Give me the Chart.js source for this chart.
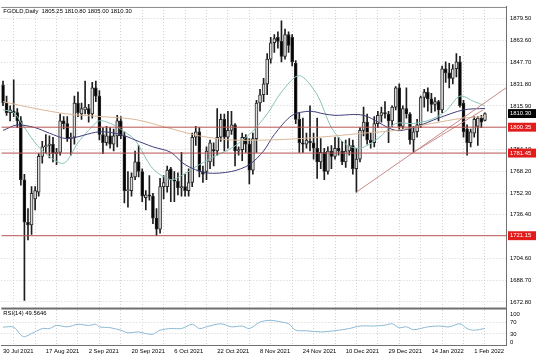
<!DOCTYPE html>
<html><head><meta charset="utf-8">
<script src="https://cdn.jsdelivr.net/npm/chart.js@4"></script>
<style>html,body{margin:0;padding:0;background:#fff;}#wrap{position:relative;width:536px;height:357px;}canvas{display:block;}</style>
</head><body><div id="wrap"><canvas id="c" width="536" height="357"></canvas></div>
<script>
// ---- data ----
const symbolTitle = 'FGOLD,Daily';
const opens  = [1831,1818,1811,1812,1811,1805,1762,1731,1729,1748,1753,1779,1786,1787,1788,1781,1782,1805,1803,1792,1793,1818,1810,1813,1814,1810,1829,1823,1795,1789,1794,1788,1794,1805,1794,1754,1754,1764,1775,1768,1749,1751,1750,1734,1726,1757,1757,1770,1762,1761,1756,1757,1754,1760,1793,1797,1768,1768,1775,1784,1783,1793,1806,1793,1798,1802,1783,1784,1793,1788,1769,1792,1818,1824,1832,1850,1862,1866,1863,1852,1868,1866,1847,1806,1789,1788,1790,1789,1785,1775,1782,1768,1783,1779,1785,1783,1775,1783,1787,1770,1777,1798,1804,1791,1789,1803,1809,1811,1810,1805,1815,1829,1801,1814,1810,1791,1797,1802,1822,1826,1821,1817,1819,1813,1843,1840,1836,1843,1848,1818,1799,1789,1796,1801,1807,1805.25];
const highs  = [1834,1823,1816,1835,1814,1808,1766,1741,1757,1757,1781,1790,1795,1794,1793,1785,1810,1808,1808,1796,1823,1826,1818,1834,1817,1833,1834,1827,1800,1801,1800,1799,1809,1808,1797,1768,1767,1783,1787,1770,1754,1765,1752,1741,1763,1765,1772,1771,1768,1767,1782,1766,1770,1796,1801,1800,1772,1786,1791,1789,1814,1810,1810,1812,1812,1803,1786,1796,1795,1792,1796,1820,1828,1836,1854,1866,1868,1870,1878,1872,1870,1868,1849,1811,1807,1796,1816,1796,1807,1792,1785,1786,1787,1793,1793,1790,1791,1792,1791,1785,1800,1815,1810,1796,1808,1812,1815,1819,1812,1816,1830,1832,1816,1829,1811,1801,1806,1823,1828,1829,1825,1822,1820,1845,1848,1847,1846,1854,1852,1820,1802,1799,1808,1808,1809,1810.8];
const lows   = [1816,1809,1805,1808,1800,1758,1674,1718,1722,1740,1750,1774,1781,1778,1775,1773,1780,1799,1790,1780,1788,1808,1806,1810,1804,1807,1819,1791,1781,1787,1785,1783,1786,1792,1745,1742,1750,1762,1764,1746,1740,1747,1730,1721.2,1723,1748,1753,1746,1746,1751,1750,1750,1750,1757,1787,1764,1760,1762,1770,1772,1780,1790,1783,1785,1795,1772,1780,1776,1782,1759,1766,1782,1812,1819,1824,1847,1855,1858,1848,1850,1855,1845,1803,1782,1782,1785,1783,1777,1763,1770,1762,1766,1770,1777,1780,1773,1771,1780,1766,1753,1775,1794,1788,1785,1786,1800,1804,1807,1789,1801,1813,1798,1799,1807,1788,1782,1793,1800,1815,1812,1811,1812,1805,1811,1833,1829,1832,1837,1815,1793,1780,1786,1793,1787,1800,1805];
const closes = [1818,1811,1813,1811,1805,1762,1731,1729,1752,1754,1779,1786,1787,1788,1781,1782,1805,1803,1792,1793,1818,1811,1814,1815,1810,1829,1823,1795,1789,1794,1788,1794,1805,1794,1754,1754,1764,1775,1768,1750,1751,1750,1734,1726,1757,1760,1769,1762,1761,1756,1757,1754,1760,1793,1797,1768,1766,1783,1789,1783,1793,1806,1793,1798,1802,1783,1784,1793,1788,1769,1792,1818,1824,1832,1850,1862,1865,1863,1852,1868,1860,1848,1806,1789,1788,1791,1789,1785,1775,1782,1768,1783,1779,1785,1783,1775,1783,1787,1770,1777,1798,1804,1791,1789,1803,1809,1811,1810,1805,1815,1829,1801,1814,1810,1791,1797,1802,1822,1826,1821,1817,1819,1813,1843,1840,1836,1843,1848,1816,1797,1789,1797,1806,1807,1804,1810.3];

// moving averages (bar index, value)
const maFastIdx = [0,3,5,9,12,17,21,24,27,31,34,37,42,47,50,55,60,64,69,74,78,83,88,92,96,100,105,110,115,120,124,128,132,135];
const maFastVal = [1813,1811,1804,1789,1781,1774,1789,1798,1805,1802,1797,1791,1770,1762,1765,1773,1780,1785,1795,1810,1826,1838,1824,1800,1788,1785,1792,1803,1803,1806,1812,1823,1819,1816];
const maMidIdx = [0,4,9,13,18,27,33,37,42,47,51,57,64,69,73,76,81,86,90,93,101,110,116,122,129,135];
const maMidVal = [1798,1802,1800,1796,1792,1797,1795,1791,1786,1782,1773,1767,1768,1773,1783,1795,1809,1812,1810,1809,1809,1798,1801,1807,1813,1814];
const maSlowIdx = [0,9,18,28,37,46,55,64,74,83,93,101,110,120,129,135];
const maSlowVal = [1819,1814,1810,1808,1806,1800,1794,1791,1791,1792,1794,1796,1798,1803,1807,1808];

// horizontal levels and trend lines
const levels = [1800.35, 1781.45, 1721.15];
const trendFrom = [[99, 1753], [115, 1782]];
const trendTo   = [[140.9, 1829], [134.5, 1813]];

// RSI(14)
const rsiIdx = [0,3,5,6,8,11,13,15,18,21,24,26,27,30,33,35,38,40,42,44,47,50,53,55,57,61,64,67,69,72,75,78,80,82,85,89,92,94,97,100,104,107,109,111,113,115,119,122,125,128,130,132,135];
const rsiVal = [54,54,26,20,31,49,49,60,55,64,60,64,55,52,43,34,37,31,29,43,49,49,64,49,55,66,55,58,49,72,78,72,66,43,41,37,40,43,49,58,58,61,66,52,55,45,55,58,55,66,49,43,49.5646];
const rsiLevels = [70, 30];
const rsiTicks = [100, 70, 30, 0];

// axis tick labels
const priceTicks = [1879.50,1863.60,1847.70,1831.80,1815.90,1784.10,1768.20,1752.30,1736.40,1704.60,1688.70,1672.80];
const xLabels = ['30 Jul 2021','17 Aug 2021','2 Sep 2021','20 Sep 2021','6 Oct 2021','22 Oct 2021','8 Nov 2021','24 Nov 2021','10 Dec 2021','29 Dec 2021','14 Jan 2022','1 Feb 2022'];

// ---- view ----
const X_MIN = -0.47, X_MAX = 140.9;
const Y_MIN = 1668.0, Y_MAX = 1888.1;
const R_MIN = -9.4, R_MAX = 120;
const FAMILY = "'Liberation Sans Narrow', 'Liberation Sans', Arial, sans-serif";
const FS = 5.9;
const font = {family: FAMILY, size: FS, lineHeight: 1};
const GRID = '#d2d2d2';
const n = closes.length;
const lastPrice = closes[n - 1];

const idx = closes.map((_, i) => i);
const pts = (xs, ys) => xs.map((x, k) => ({x, y: ys[k]}));
const markerColor = v => v === lastPrice ? '#000000' : (levels.includes(v) ? '#e21b1b' : null);

const datasets = [];
// candle wicks
datasets.push({type:'bar', order:4, yAxisID:'y', data: idx.map(i => ({x:i, y:[lows[i], highs[i]]})),
  backgroundColor:'#1e1e1e', barThickness:1, grouped:false, borderWidth:0});
// candle bodies
datasets.push({type:'bar', order:3, yAxisID:'y', data: idx.map(i => ({x:i, y:[opens[i], closes[i]]})),
  backgroundColor: idx.map(i => closes[i] >= opens[i] ? '#dcdcdc' : '#000000'),
  borderColor: '#2a2a2a', borderWidth:1, borderSkipped:false, barThickness:3, grouped:false, minBarLength:1});
// MAs
datasets.push({type:'line', order:2, yAxisID:'y', data: pts(maSlowIdx, maSlowVal), borderColor:'#dbb797', borderWidth:1, pointRadius:0, tension:0.3});
datasets.push({type:'line', order:2, yAxisID:'y', data: pts(maMidIdx, maMidVal), borderColor:'#3f3f7c', borderWidth:1, pointRadius:0, tension:0.3});
datasets.push({type:'line', order:2, yAxisID:'y', data: pts(maFastIdx, maFastVal), borderColor:'#88c2b8', borderWidth:1, pointRadius:0, tension:0.3});
// levels
levels.forEach(v => datasets.push({type:'line', order:1, yAxisID:'y', data:[{x:X_MIN, y:v},{x:X_MAX, y:v}], borderColor:'#b85252', borderWidth:1, pointRadius:0}));
// trend lines
trendFrom.forEach((f, k) => datasets.push({type:'line', order:1, yAxisID:'y', data:[{x:f[0], y:f[1]},{x:trendTo[k][0], y:trendTo[k][1]}], borderColor:'#c98a8a', borderWidth:1, pointRadius:0}));
// RSI
datasets.push({type:'line', order:0, yAxisID:'yr', data: pts(rsiIdx, rsiVal), borderColor:'#8bb9d6', borderWidth:1, pointRadius:0, tension:0.3});

const decor = {
  id: 'decor',
  afterDraw(chart) {
    const {ctx, chartArea: a, scales} = chart;
    const yr = scales.yr;
    ctx.save();
    ctx.fillStyle = '#8a8a8a';
    ctx.fillRect(a.left, a.top, a.right - a.left, 1);
    ctx.fillStyle = '#6e6e6e';
    ctx.fillRect(a.left, yr.top - 1, a.right - a.left, 2);
    ctx.font = FS + 'px ' + FAMILY;
    ctx.fillStyle = '#000';
    ctx.textBaseline = 'top';
    ctx.fillText(symbolTitle + '  ' + [opens[n-1], highs[n-1], lows[n-1], closes[n-1]].map(v => v.toFixed(2)).join(' '), a.left + 2, a.top + 1.5);
    ctx.fillText('RSI(14) ' + rsiVal[rsiVal.length - 1].toFixed(4), a.left + 2, yr.top + 2);
    ctx.restore();
  }
};

new Chart(document.getElementById('c'), {
  type: 'bar',
  data: { datasets },
  options: {
    responsive: false, animation: false, devicePixelRatio: 1,
    layout: { padding: { top: 2, left: 0, right: 0, bottom: 0 } },
    plugins: { legend: {display:false}, tooltip: {enabled:false}, title: {display:false} },
    scales: {
      x: {
        type: 'linear', min: X_MIN, max: X_MAX, offset: false,
        afterBuildTicks: s => { const t = []; for (let k = 0; k <= X_MAX; k += 6) t.push({value:k}); s.ticks = t; },
        afterFit: s => { s.height = 12; },
        ticks: { autoSkip:false, maxRotation:0, align:'start', font, color:'#000', padding:3,
          callback: v => (v % 12 === 0 && xLabels[v / 12]) ? xLabels[v / 12] : '' },
        grid: { color:GRID, drawTicks:false, lineWidth:1 },
        border: { display:true, color:'#707070', width:1, dash:[1,2] }
      },
      y: {
        position:'right', stack:'p', stackWeight:306, min:Y_MIN, max:Y_MAX,
        afterBuildTicks: s => { s.ticks = priceTicks.concat([lastPrice], levels).map(v => ({value:v})); },
        afterFit: s => { s.width = 30; },
        ticks: { autoSkip:false, font, padding:4,
          color: c => markerColor(c.tick.value) ? '#ffffff' : '#000000',
          showLabelBackdrop: true,
          backdropColor: c => markerColor(c.tick.value) || 'rgba(0,0,0,0)',
          backdropPadding: {top:1.5, bottom:1.5, left:2, right:5},
          callback: v => Number(v).toFixed(2) },
        grid: { color: c => (c.tick && markerColor(c.tick.value)) ? 'rgba(0,0,0,0)' : GRID, drawTicks:false },
        border: { display:true, color:'#707070', width:1, dash:[1,2] }
      },
      yr: {
        position:'right', stack:'p', stackWeight:37, min:R_MIN, max:R_MAX,
        afterBuildTicks: s => { s.ticks = rsiTicks.map(v => ({value:v})); },
        afterFit: s => { s.width = 30; },
        ticks: { autoSkip:false, font, padding:4, color:'#000', callback: v => String(v) },
        grid: { color: c => (c.tick && rsiLevels.includes(c.tick.value)) ? GRID : 'rgba(0,0,0,0)', drawTicks:false },
        border: { display:true, color:'#707070', width:1, dash:[1,2] }
      }
    }
  },
  plugins: [decor]
});
</script>
</body></html>
